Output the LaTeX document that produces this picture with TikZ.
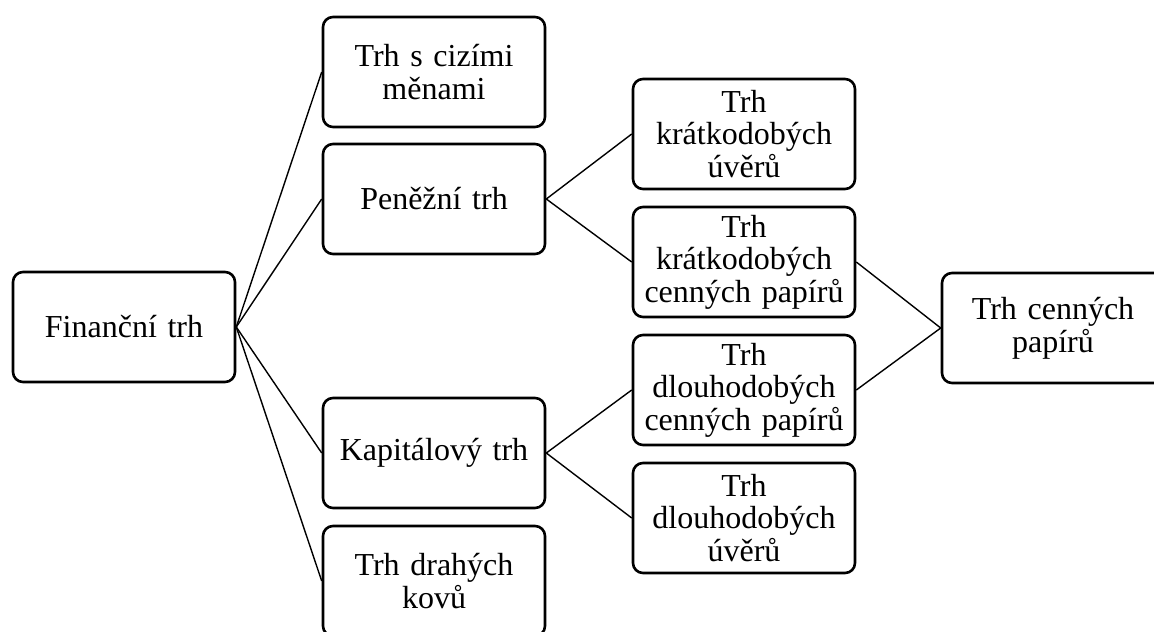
\documentclass[tikz,border=0pt]{standalone}
\usepackage{fontspec}
\setmainfont{Liberation Serif}

\begin{document}
\begin{tikzpicture}[x=0.5pt,y=-0.5pt,
    trh/.style={draw,line width=1.3pt,rounded corners=5pt,minimum width=111pt,minimum height=55pt,
                inner sep=0pt,text width=106pt,align=center,font=\fontsize{16pt}{16.3pt}\selectfont},
    spoj/.style={line width=0.7pt}]
    \useasboundingbox (0,0) rectangle (1154,631);

    % Left: the whole market
    \node [trh] (fin) at (124,327) {Finanční trh};

    % Middle column
    \node [trh] (ciz) at (434,72)  {Trh s cizími\\ měnami};
    \node [trh] (pen) at (434,199) {Peněžní trh};
    \node [trh] (kap) at (434,453) {Kapitálový trh};
    \node [trh] (dra) at (434,581) {Trh drahých\\ kovů};

    % Right column
    \node [trh] (kru) at (744,134) {Trh\\ krátkodobých\\ úvěrů};
    \node [trh] (kcp) at (744,262) {Trh\\ krátkodobých\\ cenných papírů};
    \node [trh] (dcp) at (744,390) {Trh\\ dlouhodobých\\ cenných papírů};
    \node [trh] (duv) at (744,518) {Trh\\ dlouhodobých\\ úvěrů};

    \node [trh] (cp) at (1053,328) {Trh cenných\\ papírů};

    % Connectors
    \foreach \n in {ciz,pen,kap,dra}
        \draw [spoj] (fin.east) -- (\n.west);
    \draw [spoj] (pen.east) -- (kru.west);
    \draw [spoj] (pen.east) -- (kcp.west);
    \draw [spoj] (kap.east) -- (dcp.west);
    \draw [spoj] (kap.east) -- (duv.west);
    \draw [spoj] (cp.west) -- (kcp.east);
    \draw [spoj] (cp.west) -- (dcp.east);
\end{tikzpicture}
\end{document}
